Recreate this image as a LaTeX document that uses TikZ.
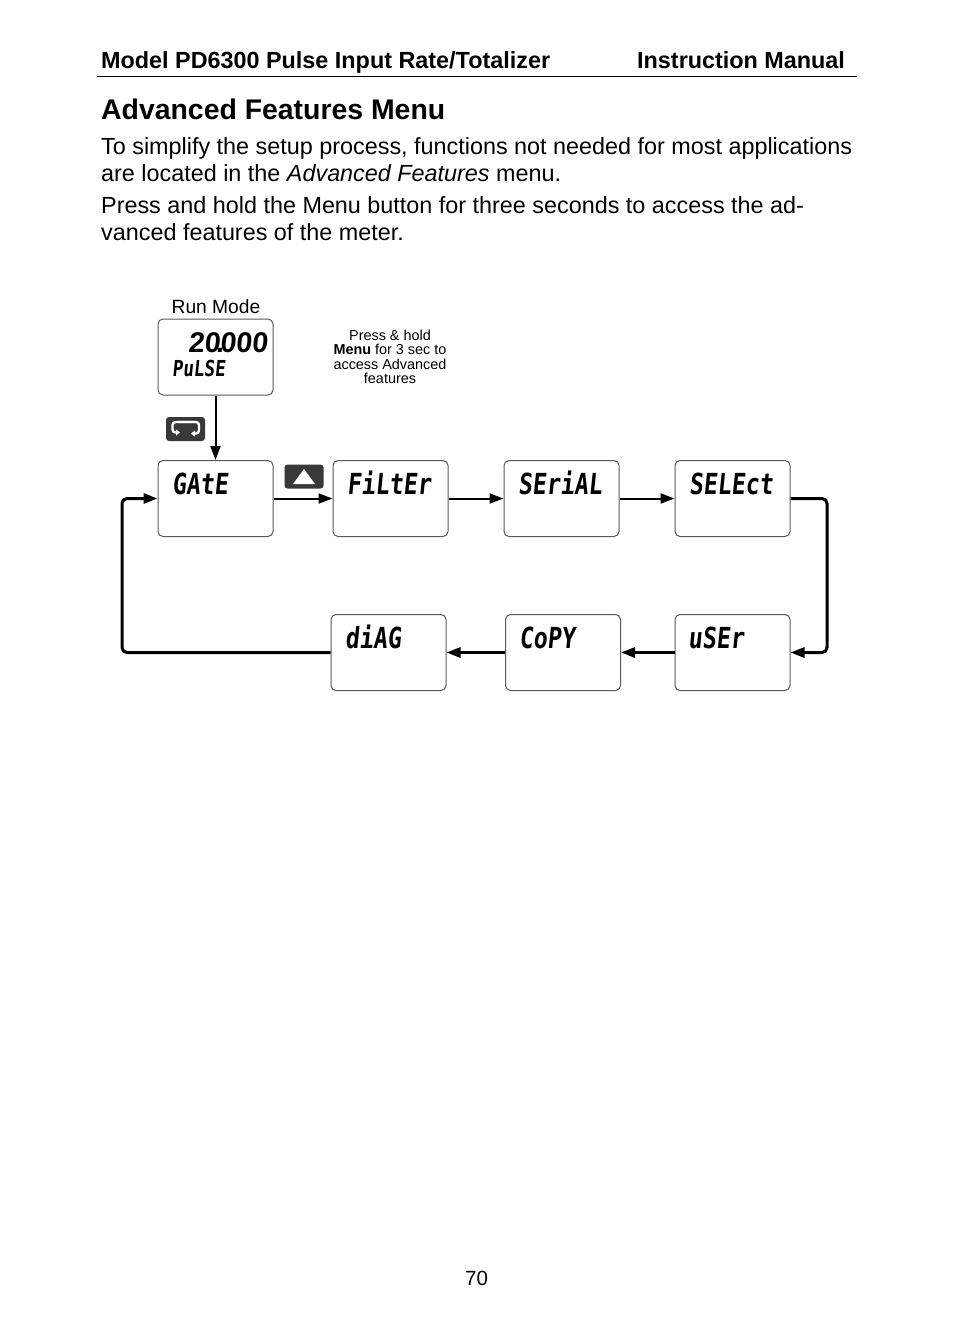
\documentclass[tikz,border=0pt]{standalone}
\usepackage{fontspec}
\setmainfont{Liberation Sans}
\newfontfamily\lcdfont[FakeSlant=0.1,FakeStretch=0.8]{DejaVu Sans Mono Bold}
\newfontfamily\lcdnum[FakeSlant=0.1]{Liberation Sans Bold}
\usetikzlibrary{arrows.meta}
\definecolor{boxline}{gray}{0.35}
\definecolor{btnfill}{gray}{0.22}
\newcommand{\pxfont}[1]{\fontsize{#1}{#1}\selectfont}
\tikzset{
  txt/.style     = {anchor=base west, inner sep=0pt, font=\pxfont{23.37}},
  lcdbox/.style  = {draw=boxline, line width=1pt, rounded corners=5pt, fill=white,
                    minimum width=115pt, minimum height=76pt, inner sep=0pt},
  lcd/.style     = {anchor=base west, inner sep=0pt, font=\lcdfont\pxfont{29}},
  btn/.style     = {fill=btnfill, rounded corners=3pt, minimum width=39pt,
                    minimum height=24pt, inner sep=0pt},
  note/.style    = {anchor=center, inner sep=0pt, font=\pxfont{14.4}},
  arr/.style     = {-{Triangle[length=14pt,width=10pt]}, line width=2pt},
  arrk/.style    = {-{Triangle[length=14pt,width=10pt]}, line width=3pt, rounded corners=5pt},
  loopline/.style= {white, line width=2.4pt, rounded corners=3pt, -{Triangle[length=4pt,width=6pt]}},
}
\begin{document}
\begin{tikzpicture}[x=1pt,y=-1pt]
  \useasboundingbox (0,0) rectangle (954,1336);
  \fill[white] (0,0) rectangle (954,1336);
  % page text
  \node[txt, font=\bfseries\pxfont{23.37}] (hleft) at (101,68.5) {Model PD6300 Pulse Input Rate/Totalizer};
  \node[txt, font=\bfseries\pxfont{23.37}] (hright) at (637,68.5) {Instruction Manual};
  \draw[line width=1pt] (97,76.5) -- (857,76.5);
  \node[txt, font=\bfseries\pxfont{28.4}] (title) at (101,119) {Advanced Features Menu};
  \node[txt] (lineA) at (101,154.5) {To simplify the setup process, functions not needed for most applications};
  \node[txt] (lineB) at (101,181.5) {are located in the \textit{Advanced Features} menu.};
  \node[txt] (lineC) at (101,213.5) {Press and hold the Menu button for three seconds to access the ad-};
  \node[txt] (lineD) at (101,240.5) {vanced features of the meter.};
  \node[txt, font=\pxfont{19.2}] (runlab) at (171.5,313) {Run Mode};
  \node[note] (noteA) at (390,335) {Press \& hold};
  \node[note] (noteB) at (390,349) {\textbf{Menu} for 3 sec to};
  \node[note] (noteC) at (390,364) {access Advanced};
  \node[note] (noteD) at (390,378) {features};
  \node[note, font=\pxfont{20.5}] (pageno) at (476.5,1278) {70};
  % meter screens
  \node[lcdbox] (run) at (215.5,357) {};
  \node[lcdbox] (gate) at (215.5,498.5) {};
  \node[lcdbox] (filter) at (390.5,498.5) {};
  \node[lcdbox] (serial) at (561.5,498.5) {};
  \node[lcdbox] (select) at (732.5,498.5) {};
  \node[lcdbox] (user) at (732.5,652.5) {};
  \node[lcdbox] (copy) at (563,652.5) {};
  \node[lcdbox] (diag) at (388.5,652.5) {};
  \node[lcd, font=\lcdnum\pxfont{28.5}] (runval) at (188,352) {20\kern-4pt.\kern-4pt 000};
  \node[lcd, font=\lcdfont\pxfont{22}] (runname) at (172,376) {PuLSE};
  \node[lcd] (gatetxt) at (172,494) {GAtE};
  \node[lcd] (filtertxt) at (347,494) {FiLtEr};
  \node[lcd] (serialtxt) at (518,494) {SEriAL};
  \node[lcd] (selecttxt) at (689,494) {SELEct};
  \node[lcd] (usertxt) at (688,648) {uSEr};
  \node[lcd] (copytxt) at (519,648) {CoPY};
  \node[lcd] (diagtxt) at (345,648) {diAG};
  % buttons
  \node[btn] (menubtn) at (185.5,429) {};
  \node[btn] (upbtn) at (304,476.5) {};
  \draw[loopline] (194,422) -- (172.5,422) -- (172.5,432.5) -- (180,432.5);
  \draw[loopline] (178,422) -- (199,422) -- (199,433.5) -- (191,433.5);
  \fill[white] (304,469) -- (315,484) -- (293,484) -- cycle;
  % connectors
  \coordinate (rturn) at (827,575);
  \coordinate (lturn) at (122,575);
  \draw[arr] (run) -- (gate);
  \draw[arr] (gate) -- (filter);
  \draw[arr] (filter) -- (serial);
  \draw[arr] (serial) -- (select);
  \draw[arrk] (select.east) -| (rturn) |- (user.east);
  \draw[arrk] (user) -- (copy);
  \draw[arrk] (copy) -- (diag);
  \draw[arrk] (diag.west) -| (lturn) |- (gate.west);
\end{tikzpicture}
\end{document}
